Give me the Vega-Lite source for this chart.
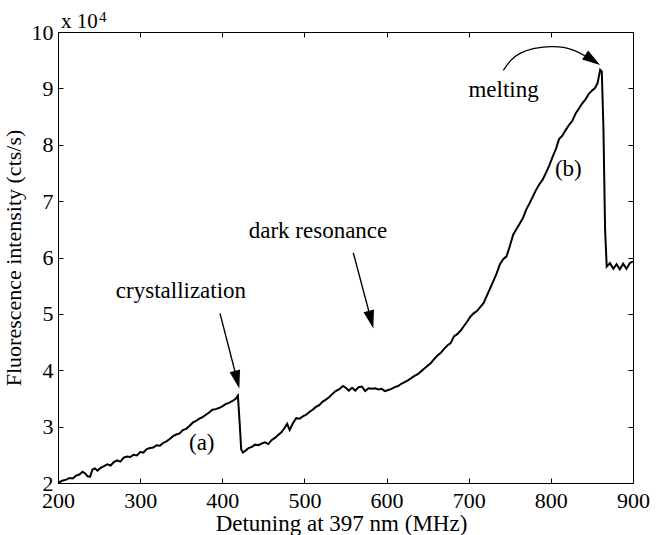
{
  "$schema": "https://vega.github.io/schema/vega-lite/v6.json",
  "autosize": {"type": "none"},
  "padding": {"left": 58, "top": 32, "right": 23, "bottom": 52},
  "width": 575,
  "height": 451,
  "background": "white",
  "config": {
    "view": {"stroke": "black", "strokeWidth": 1},
    "font": "Liberation Serif",
    "axis": {"grid": false, "domain": false, "tickColor": "black", "tickSize": -5, "tickWidth": 1, "labelColor": "black", "labelFont": "Liberation Serif", "labelFontSize": 22, "titleFont": "Liberation Serif", "titleFontSize": 22, "titleFontWeight": "normal", "titleColor": "black", "labelOverlap": false, "labelFlush": false}
  },
  "datasets": {
    "curve": [
      {"f":200,"v":2.00},{"f":205,"v":2.04},{"f":210,"v":2.06},{"f":214,"v":2.09},{"f":218,"v":2.08},{"f":222,"v":2.13},{"f":226,"v":2.15},{"f":230,"v":2.20},{"f":233,"v":2.17},{"f":236,"v":2.12},{"f":239,"v":2.11},{"f":242,"v":2.24},{"f":245,"v":2.26},{"f":248,"v":2.22},{"f":252,"v":2.27},{"f":256,"v":2.30},{"f":260,"v":2.33},{"f":264,"v":2.31},{"f":268,"v":2.37},{"f":272,"v":2.40},{"f":276,"v":2.38},{"f":280,"v":2.45},{"f":284,"v":2.47},{"f":288,"v":2.46},{"f":292,"v":2.50},{"f":296,"v":2.49},{"f":300,"v":2.55},{"f":304,"v":2.54},{"f":308,"v":2.60},{"f":312,"v":2.62},{"f":316,"v":2.63},{"f":320,"v":2.67},{"f":324,"v":2.66},{"f":328,"v":2.71},{"f":332,"v":2.74},{"f":336,"v":2.78},{"f":340,"v":2.83},{"f":344,"v":2.86},{"f":348,"v":2.88},{"f":352,"v":2.94},{"f":356,"v":2.96},{"f":360,"v":3.01},{"f":364,"v":3.07},{"f":368,"v":3.10},{"f":372,"v":3.14},{"f":376,"v":3.17},{"f":380,"v":3.21},{"f":384,"v":3.25},{"f":388,"v":3.30},{"f":392,"v":3.31},{"f":396,"v":3.33},{"f":400,"v":3.36},{"f":404,"v":3.40},{"f":408,"v":3.42},{"f":412,"v":3.45},{"f":416,"v":3.49},{"f":419,"v":3.55},{"f":421,"v":3.10},{"f":423,"v":2.60},{"f":425,"v":2.54},{"f":428,"v":2.57},{"f":432,"v":2.62},{"f":436,"v":2.64},{"f":440,"v":2.68},{"f":444,"v":2.67},{"f":448,"v":2.70},{"f":452,"v":2.72},{"f":456,"v":2.69},{"f":460,"v":2.76},{"f":464,"v":2.80},{"f":468,"v":2.85},{"f":472,"v":2.90},{"f":476,"v":2.98},{"f":479,"v":3.05},{"f":482,"v":2.94},{"f":486,"v":3.06},{"f":490,"v":3.15},{"f":494,"v":3.14},{"f":498,"v":3.18},{"f":502,"v":3.21},{"f":506,"v":3.26},{"f":510,"v":3.30},{"f":514,"v":3.35},{"f":518,"v":3.38},{"f":522,"v":3.44},{"f":526,"v":3.48},{"f":530,"v":3.52},{"f":534,"v":3.58},{"f":538,"v":3.63},{"f":542,"v":3.66},{"f":547,"v":3.72},{"f":551,"v":3.68},{"f":554,"v":3.64},{"f":558,"v":3.69},{"f":562,"v":3.64},{"f":566,"v":3.70},{"f":570,"v":3.71},{"f":574,"v":3.63},{"f":578,"v":3.68},{"f":582,"v":3.67},{"f":586,"v":3.68},{"f":590,"v":3.66},{"f":594,"v":3.67},{"f":598,"v":3.63},{"f":602,"v":3.65},{"f":606,"v":3.67},{"f":610,"v":3.70},{"f":614,"v":3.72},{"f":618,"v":3.76},{"f":622,"v":3.79},{"f":626,"v":3.82},{"f":630,"v":3.86},{"f":634,"v":3.90},{"f":638,"v":3.93},{"f":642,"v":3.98},{"f":646,"v":4.03},{"f":650,"v":4.08},{"f":654,"v":4.13},{"f":658,"v":4.20},{"f":662,"v":4.26},{"f":666,"v":4.31},{"f":670,"v":4.38},{"f":674,"v":4.44},{"f":678,"v":4.48},{"f":682,"v":4.60},{"f":686,"v":4.64},{"f":690,"v":4.70},{"f":694,"v":4.78},{"f":698,"v":4.86},{"f":702,"v":4.95},{"f":706,"v":5.01},{"f":710,"v":5.05},{"f":714,"v":5.12},{"f":718,"v":5.19},{"f":722,"v":5.32},{"f":726,"v":5.45},{"f":730,"v":5.58},{"f":734,"v":5.72},{"f":738,"v":5.88},{"f":742,"v":5.97},{"f":746,"v":6.02},{"f":750,"v":6.20},{"f":754,"v":6.40},{"f":758,"v":6.50},{"f":762,"v":6.60},{"f":766,"v":6.70},{"f":770,"v":6.85},{"f":774,"v":6.96},{"f":778,"v":7.08},{"f":782,"v":7.20},{"f":786,"v":7.30},{"f":790,"v":7.38},{"f":794,"v":7.50},{"f":798,"v":7.63},{"f":802,"v":7.78},{"f":806,"v":7.92},{"f":810,"v":8.10},{"f":814,"v":8.16},{"f":818,"v":8.26},{"f":822,"v":8.35},{"f":826,"v":8.42},{"f":830,"v":8.55},{"f":834,"v":8.64},{"f":838,"v":8.73},{"f":842,"v":8.80},{"f":846,"v":8.90},{"f":850,"v":8.96},{"f":854,"v":9.01},{"f":857,"v":9.10},{"f":860,"v":9.33},{"f":862,"v":9.30},{"f":864,"v":8.30},{"f":866,"v":6.50},{"f":868,"v":5.84},{"f":872,"v":5.90},{"f":876,"v":5.80},{"f":880,"v":5.88},{"f":884,"v":5.79},{"f":888,"v":5.89},{"f":892,"v":5.80},{"f":896,"v":5.90},{"f":900,"v":5.93}
    ],
    "labels": [
      {"f":349.7,"v":5.29,"t":"crystallization"},
      {"f":516.5,"v":6.34,"t":"dark resonance"},
      {"f":742.4,"v":8.85,"t":"melting"},
      {"f":375,"v":2.585,"t":"(a)"},
      {"f":821.3,"v":7.44,"t":"(b)"}
    ],
    "arrows": [
      {"f":397.2,"v":5.01,"f2":418.0,"v2":3.833},
      {"f":559.5,"v":6.083,"f2":581.1,"v2":4.897}
    ],
    "heads": [
      {"f":418.0,"v":3.833,"a":165.6},
      {"f":581.1,"v":4.897,"a":165.2},
      {"f":850.8,"v":9.504,"a":124}
    ],
    "arc": [
      {"f":742.1,"v":9.32},{"f":762.4,"v":9.62},{"f":799.0,"v":9.74},{"f":827.3,"v":9.68},{"f":850.8,"v":9.50}
    ]
  },
  "resolve": {"axis": {"x": "independent", "y": "independent"}},
  "layer": [
    {
      "layer": [
        {
          "data": {"name": "curve"},
          "mark": {"type": "line", "color": "black", "strokeWidth": 2},
          "encoding": {
            "x": {"field": "f", "type": "quantitative", "scale": {"domain": [200, 900], "nice": false, "zero": false},
                  "axis": {"orient": "bottom", "values": [200,300,400,500,600,700,800,900], "format": "d", "labelPadding": 12, "title": "Detuning at 397 nm (MHz)", "titleFontSize": 23, "titleX": 283, "titleY": 47, "titleBaseline": "alphabetic", "titleAnchor": "middle"}},
            "y": {"field": "v", "type": "quantitative", "scale": {"domain": [2, 10], "nice": false, "zero": false},
                  "axis": {"orient": "left", "values": [2,3,4,5,6,7,8,9,10], "format": "d", "labelPadding": 10, "title": "Fluorescence intensity (cts/s)", "titleX": -38, "titleY": 225.5, "titleAngle": -90, "titleBaseline": "alphabetic", "titleAnchor": "middle"}}
          }
        },
        {
          "data": {"name": "arrows"},
          "mark": {"type": "rule", "color": "black", "strokeWidth": 1.4},
          "encoding": {
            "x": {"field": "f", "type": "quantitative"},
            "y": {"field": "v", "type": "quantitative"},
            "x2": {"field": "f2"},
            "y2": {"field": "v2"}
          }
        },
        {
          "data": {"name": "arc"},
          "mark": {"type": "line", "color": "black", "strokeWidth": 1.3, "interpolate": "natural"},
          "encoding": {
            "x": {"field": "f", "type": "quantitative"},
            "y": {"field": "v", "type": "quantitative"}
          }
        },
        {
          "data": {"name": "heads"},
          "mark": {"type": "point", "shape": "M0,-1L0.6,1L-0.6,1Z", "filled": true, "color": "black", "opacity": 1, "size": 324, "strokeWidth": 0},
          "encoding": {
            "x": {"field": "f", "type": "quantitative"},
            "y": {"field": "v", "type": "quantitative"},
            "angle": {"field": "a", "type": "quantitative", "scale": null}
          }
        },
        {
          "data": {"name": "labels"},
          "mark": {"type": "text", "font": "Liberation Serif", "fontSize": 23, "color": "black", "align": "center", "baseline": "alphabetic"},
          "encoding": {
            "x": {"field": "f", "type": "quantitative"},
            "y": {"field": "v", "type": "quantitative"},
            "text": {"field": "t"}
          }
        },
        {
          "data": {"values": [{"f": 200, "v": 10, "t": "x 10"}]},
          "mark": {"type": "text", "font": "Liberation Serif", "fontSize": 21, "color": "black", "align": "left", "baseline": "alphabetic", "dx": 3, "dy": -4},
          "encoding": {
            "x": {"field": "f", "type": "quantitative"},
            "y": {"field": "v", "type": "quantitative"},
            "text": {"field": "t"}
          }
        },
        {
          "data": {"values": [{"f": 200, "v": 10, "t": "4"}]},
          "mark": {"type": "text", "font": "Liberation Serif", "fontSize": 15, "color": "black", "align": "left", "baseline": "alphabetic", "dx": 41, "dy": -10},
          "encoding": {
            "x": {"field": "f", "type": "quantitative"},
            "y": {"field": "v", "type": "quantitative"},
            "text": {"field": "t"}
          }
        }
      ]
    },
    {
      "data": {"name": "curve"},
      "mark": {"type": "line", "strokeOpacity": 0},
      "encoding": {
        "x": {"field": "f", "type": "quantitative", "axis": {"orient": "top", "values": [200,300,400,500,600,700,800,900], "labels": false, "title": null}},
        "y": {"field": "v", "type": "quantitative", "axis": {"orient": "right", "values": [2,3,4,5,6,7,8,9,10], "labels": false, "title": null}}
      }
    }
  ]
}
